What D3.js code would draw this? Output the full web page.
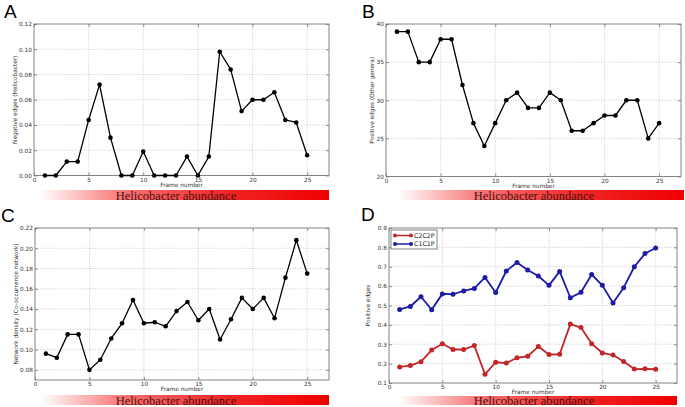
<!DOCTYPE html>
<html><head><meta charset="utf-8">
<script src="https://cdn.jsdelivr.net/npm/d3@7"></script>
<style>body{margin:0;background:#fff}svg{display:block}</style>
</head><body>
<script>
const frames = d3.range(1, 26);
const negHelico = [0,0,0.011,0.011,0.044,0.072,0.030,0,0,0.019,0,0,0,0.015,0,0.015,0.098,0.084,0.051,0.060,0.060,0.066,0.044,0.042,0.016];
const posOther = [39,39,35,35,38,38,32,27,24,27,30,31,29,29,31,30,26,26,27,28,28,30,30,25,27];
const density = [0.096,0.092,0.115,0.115,0.080,0.090,0.111,0.126,0.149,0.126,0.127,0.123,0.138,0.147,0.129,0.140,0.110,0.130,0.151,0.140,0.151,0.131,0.171,0.208,0.175];
const c2c2p = [0.183,0.190,0.210,0.270,0.303,0.273,0.273,0.293,0.145,0.207,0.203,0.230,0.238,0.288,0.247,0.248,0.404,0.386,0.303,0.255,0.244,0.211,0.172,0.173,0.171];
const c1c1p = [0.480,0.495,0.545,0.478,0.560,0.558,0.575,0.588,0.645,0.567,0.678,0.722,0.683,0.652,0.604,0.676,0.540,0.568,0.660,0.604,0.513,0.592,0.700,0.768,0.797];
const xTicks = [0,5,10,15,20,25];
const yTicksA = [0,0.02,0.04,0.06,0.08,0.10,0.12];
const yTicksB = [20,25,30,35,40];
const yTicksC = [0.08,0.10,0.12,0.14,0.16,0.18,0.20,0.22];
const yTicksD = [0.1,0.2,0.3,0.4,0.5,0.6,0.7,0.8,0.9];
const bannerText = "Helicobacter abundance";

const W = 685, H = 407;
const svg = d3.select("body").append("svg").attr("width", W).attr("height", H);
const defs = svg.append("defs");
const grad = defs.append("linearGradient").attr("id", "hgrad").attr("x1","0").attr("x2","1").attr("y1","0").attr("y2","0");
grad.append("stop").attr("offset","0").attr("stop-color","#ffffff");
grad.append("stop").attr("offset","0.3").attr("stop-color","#f87070");
grad.append("stop").attr("offset","0.65").attr("stop-color","#f02424");
grad.append("stop").attr("offset","1").attr("stop-color","#f00000");

const FS = 5.8;
const panels = [
  {label:"A", lx:4, ly:18, box:[34,329,24,175.5], yd:[0,0.12], yt:yTicksA, fmt:".2f",
   ylab:"Negative edges (Helicobacter)", ylx:17, xly:186.8,
   series:[{v:negHelico, c:"#000", w:1.3}], bar:[40,329,190,200], tx:176, ty:200},
  {label:"B", lx:362, ly:18, box:[386,681,24,176.5], yd:[20,40], yt:yTicksB, fmt:"d",
   ylab:"Positive edges (Other genera)", ylx:374, xly:187.8,
   series:[{v:posOther, c:"#000", w:1.3}], bar:[398,684,190,200], tx:534, ty:200},
  {label:"C", lx:1, ly:222, box:[35,329,228,380], yd:[0.07,0.22], yt:yTicksC, fmt:".2f",
   ylab:"Network density (Co-occurrence network)", ylx:18, xly:391.2,
   series:[{v:density, c:"#000", w:1.3}], bar:[40,329,395,405], tx:176, ty:404.6},
  {label:"D", lx:361, ly:221, box:[389,677,228,383], yd:[0.1,0.9], yt:yTicksD, fmt:".1f",
   ylab:"Positive edges", ylx:370, xly:393.6,
   series:[{v:c2c2p, c:"#c0262a", w:1.8, name:"C2C2P"},{v:c1c1p, c:"#1c1ca6", w:1.8, name:"C1C1P"}],
   bar:[398,677,396,405], tx:534, ty:405.4, legend:true}
];

panels.forEach(p => {
  const [x0,x1,y0,y1] = p.box;
  const x = d3.scaleLinear().domain([0,27]).range([x0,x1]);
  const y = d3.scaleLinear().domain(p.yd).range([y1,y0]);
  const g = svg.append("g");

  // gradient bar + text
  g.append("rect").attr("x",p.bar[0]).attr("y",p.bar[2]).attr("width",p.bar[1]-p.bar[0]).attr("height",p.bar[3]-p.bar[2]).attr("fill","url(#hgrad)");
  g.append("text").attr("x",p.tx).attr("y",p.ty).attr("text-anchor","middle")
    .attr("font-family","Liberation Serif, serif").attr("font-size",12.5).attr("fill","#4a1010").text(bannerText);

  // grid
  g.append("g").selectAll("line").data(xTicks.filter(t=>t>0)).join("line")
    .attr("x1",d=>x(d)).attr("x2",d=>x(d)).attr("y1",y0).attr("y2",y1)
    .attr("stroke","#aaa").attr("stroke-width",0.6).attr("stroke-dasharray","1,1.5");
  g.append("g").selectAll("line").data(p.yt.filter(t=>y(t)>y0+0.5 && y(t)<y1-0.5)).join("line")
    .attr("x1",x0).attr("x2",x1).attr("y1",d=>y(d)).attr("y2",d=>y(d))
    .attr("stroke","#aaa").attr("stroke-width",0.6).attr("stroke-dasharray","1,1.5");

  // axes (bottom/left labelled, top/right mirrored ticks)
  const xa = d3.axisBottom(x).tickValues(xTicks).tickSize(-3).tickPadding(2).tickFormat(d3.format("d"));
  const ya = d3.axisLeft(y).tickValues(p.yt).tickSize(-3).tickPadding(2).tickFormat(d3.format(p.fmt));
  const xt = d3.axisTop(x).tickValues(xTicks).tickSize(-3).tickFormat("");
  const yr = d3.axisRight(y).tickValues(p.yt).tickSize(-3).tickFormat("");
  const gx = g.append("g").attr("transform",`translate(0,${y1})`).call(xa);
  const gy = g.append("g").attr("transform",`translate(${x0},0)`).call(ya);
  const gt = g.append("g").attr("transform",`translate(0,${y0})`).call(xt);
  const gr = g.append("g").attr("transform",`translate(${x1},0)`).call(yr);
  [gx,gy,gt,gr].forEach(a => {
    a.select(".domain").remove();
    a.selectAll("line").attr("stroke","#444").attr("stroke-width",0.6);
    a.selectAll("text").attr("font-family","DejaVu Sans, sans-serif").attr("font-size",FS).attr("fill","#333");
  });
  // frame
  g.append("rect").attr("x",x0).attr("y",y0).attr("width",x1-x0).attr("height",y1-y0)
    .attr("fill","none").attr("stroke","#777").attr("stroke-width",0.9);

  // labels
  g.append("text").attr("x",(x0+x1)/2).attr("y",p.xly).attr("text-anchor","middle")
    .attr("font-family","DejaVu Sans, sans-serif").attr("font-size",FS).attr("fill","#333").text("Frame number");
  g.append("text").attr("transform",`translate(${p.ylx},${(y0+y1)/2}) rotate(-90)`).attr("text-anchor","middle")
    .attr("font-family","DejaVu Sans, sans-serif").attr("font-size",FS).attr("fill","#333").text(p.ylab);
  g.append("text").attr("x",p.lx).attr("y",p.ly).attr("font-family","Liberation Sans, Arial, sans-serif")
    .attr("font-size",19).attr("fill","#000").text(p.label);

  // series
  const line = d3.line().x((d,i)=>x(frames[i])).y(d=>y(d));
  p.series.forEach(s => {
    g.append("path").datum(s.v).attr("d",line).attr("fill","none").attr("stroke",s.c).attr("stroke-width",s.w).attr("stroke-linejoin","round");
    g.append("g").selectAll("circle").data(s.v).join("circle")
      .attr("cx",(d,i)=>x(frames[i])).attr("cy",d=>y(d)).attr("r",p.legend?2.5:2.3).attr("fill",s.c);
  });

  if (p.legend) {
    const lg = g.append("g");
    lg.append("rect").attr("x",391).attr("y",230).attr("width",46).attr("height",19)
      .attr("fill","#fff").attr("stroke","#666").attr("stroke-width",0.8);
    p.series.forEach((s,i) => {
      const yy = 235.5 + i*8.5;
      lg.append("line").attr("x1",395).attr("x2",411).attr("y1",yy).attr("y2",yy).attr("stroke",s.c).attr("stroke-width",1.5);
      [395,411].forEach(cx => lg.append("circle").attr("cx",cx).attr("cy",yy).attr("r",2).attr("fill",s.c));
      lg.append("text").attr("x",414).attr("y",yy+2.2).attr("font-family","DejaVu Sans, sans-serif")
        .attr("font-size",6.3).attr("fill","#222").text(s.name);
    });
  }
});
</script>
</body></html>
